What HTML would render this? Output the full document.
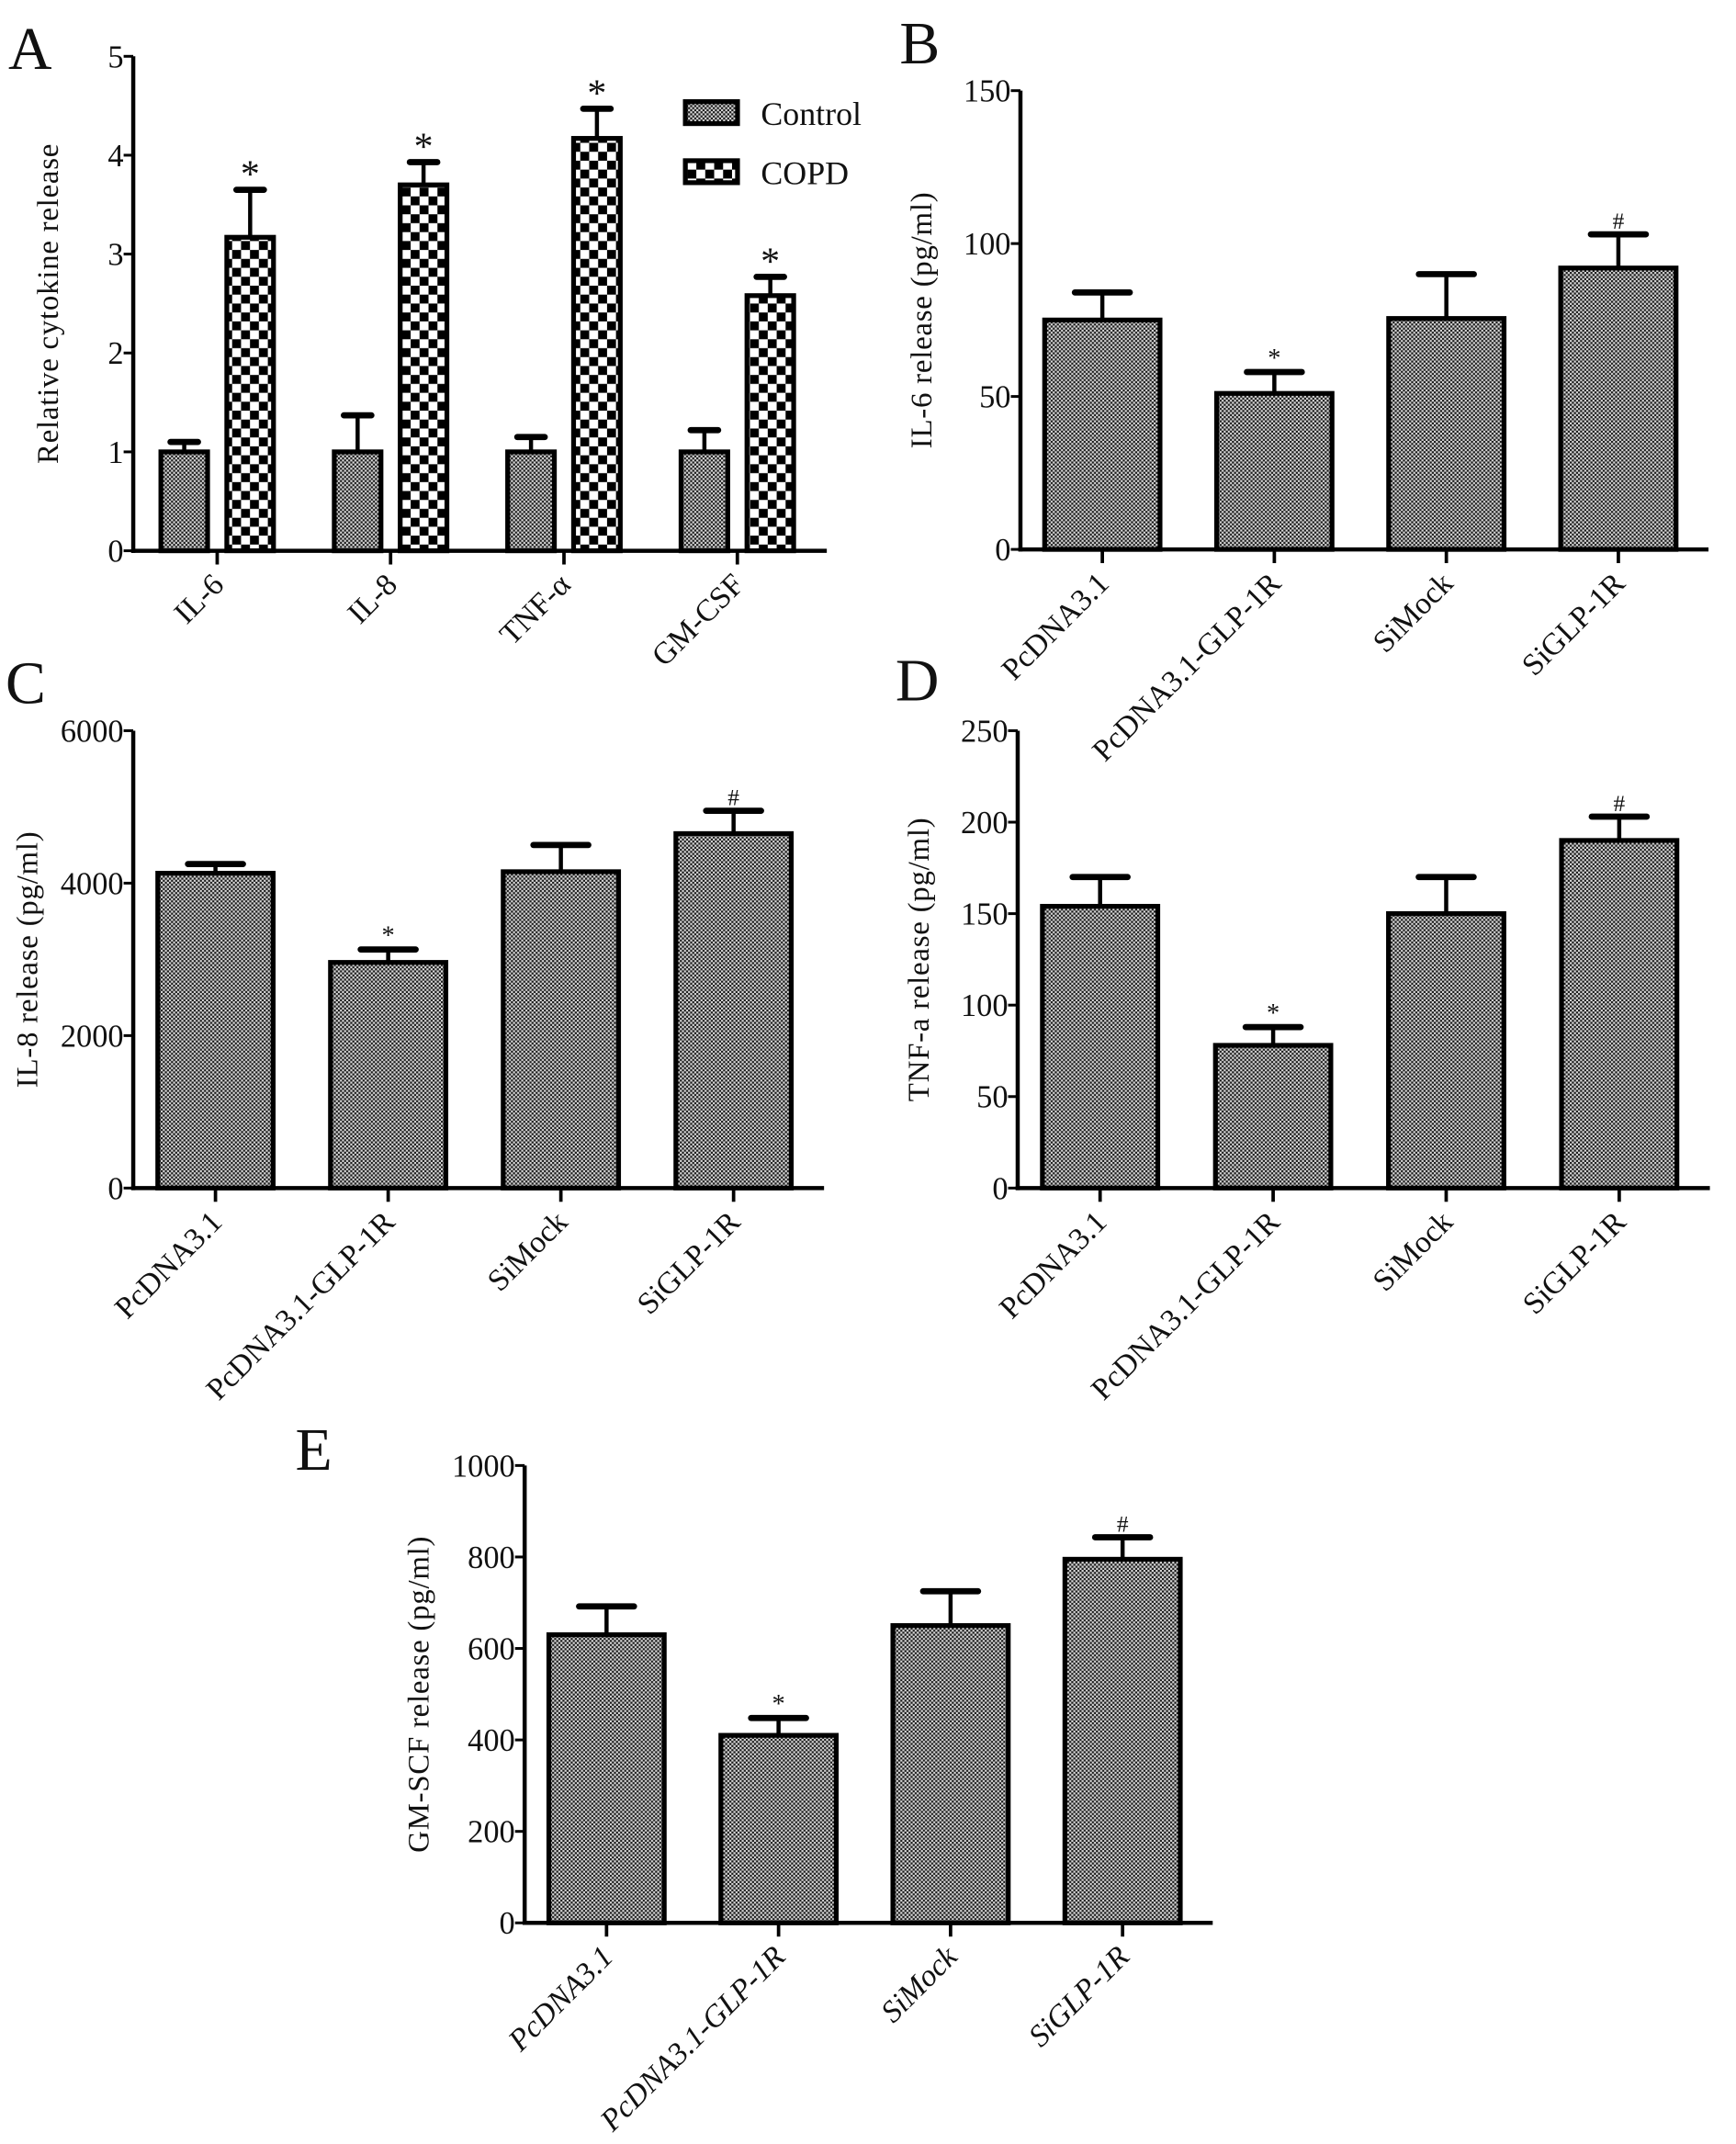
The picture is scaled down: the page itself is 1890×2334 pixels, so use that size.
<!DOCTYPE html>
<html><head><meta charset="utf-8"><style>
html,body{margin:0;padding:0;background:#fff}
svg{display:block}
text{font-family:"Liberation Serif",serif;fill:#111}
</style></head><body>
<svg id="fig" width="1890" height="2334" viewBox="0 0 1264 1561" xmlns="http://www.w3.org/2000/svg">
<defs>
<pattern id="fine" width="3" height="3" patternUnits="userSpaceOnUse">
<rect width="3" height="3" fill="#d8d8d8"/><rect width="1.5" height="1.5" fill="#1a1a1a"/><rect x="1.5" y="1.5" width="1.5" height="1.5" fill="#1a1a1a"/>
</pattern>
<pattern id="coarse" width="13" height="13" patternUnits="userSpaceOnUse">
<rect width="13" height="13" fill="#fff"/><rect width="6.5" height="6.5" fill="#000"/><rect x="6.5" y="6.5" width="6.5" height="6.5" fill="#000"/>
</pattern>
</defs>
</svg>
<script>
// Panel A data
const aCategories = ["IL-6","IL-8","TNF-α","GM-CSF"];
const aControl = [1,1,1,1];
const aControlErr = [0.1,0.37,0.15,0.22];
const aCOPD = [3.17,3.7,4.17,2.58];
const aCOPDErr = [0.48,0.23,0.3,0.19];
const aTicks = [0,1,2,3,4,5];
// Panels B-E
const groups = ["PcDNA3.1","PcDNA3.1-GLP-1R","SiMock","SiGLP-1R"];
const bValues = [75,51,75.5,92];
const bErr = [9,7,14.5,11];
const bTicks = [0,50,100,150];
const cValues = [4130,2960,4150,4650];
const cErr = [120,170,350,300];
const cTicks = [0,2000,4000,6000];
const dValues = [154,78,150,190];
const dErr = [16,10,20,13];
const dTicks = [0,50,100,150,200,250];
const eValues = [630,410,650,795];
const eErr = [62,38,75,48];
const eTicks = [0,200,400,600,800,1000];
const marks = ["","*","","#"];

const svg = document.getElementById('fig');
const NS = 'http://www.w3.org/2000/svg';
function mk(tag, attrs, parent){
  const e = document.createElementNS(NS, tag);
  for (const k in attrs) e.setAttribute(k, attrs[k]);
  (parent||svg).appendChild(e);
  return e;
}
function txt(s, attrs, parent){ const t = mk('text', attrs, parent); t.textContent = s; return t; }

function axes(g, x0, xEnd, y0, yTop, ticks, ymax, title, letter, lx, ly){
  const Y = v => y0 - (v/ymax)*(y0-yTop);
  const ax = mk('line',{x1:x0,y1:y0+1.5,x2:x0,y2:yTop,stroke:'#000','stroke-width':3},g);
   
  const xa = mk('line',{x1:x0-1.5,y1:y0,x2:xEnd,y2:y0,stroke:'#000','stroke-width':3},g);
   
  ticks.forEach(v=>{
    mk('line',{x1:x0-7,y1:Y(v),x2:x0,y2:Y(v),stroke:'#000','stroke-width':2},g);
    const t = txt(String(v),{x:x0-7,y:Y(v)+8,'text-anchor':'end','font-size':23},g);
     
  });
  const cy = (y0+yTop)/2;
  const tx = x0-50 - String(ymax).length*5;
  const tt = txt(title,{x:tx,y:cy,'text-anchor':'middle','font-size':22,transform:`rotate(-90 ${tx} ${cy})`,'letter-spacing':'0.5'},g);
   
  const L = txt(letter,{x:lx,y:ly,'font-size':44},g);
   
  return Y;
}
function bar(g, cx, w, y0, Y, v, err, fill, capw){
  const top = Y(v+err);
  mk('line',{x1:cx,y1:Y(v),x2:cx,y2:top,stroke:'#000','stroke-width':3},g);
  const cap = mk('line',{x1:cx-capw/2,y1:top,x2:cx+capw/2,y2:top,stroke:'#000','stroke-width':4.5,'stroke-linecap':'round'},g);
   
  const r = mk('rect',{x:cx-w/2,y:Y(v),width:w,height:y0-Y(v),fill:fill,stroke:'#000','stroke-width':3.5},g);
  return {r, top};
}
function xlabel(g, cx, y0, s, italic){
  const t = txt(s,{x:cx+6,y:y0+26,'text-anchor':'end','font-size':22.5,transform:`rotate(-45 ${cx+6} ${y0+26})`},g);
  if (italic) t.setAttribute('font-style','italic');
   
}

// Panel A
(function(){
  const g = mk('g',{});  
  const x0=97, xEnd=602, y0=401, yTop=41;
  const Y = axes(g,x0,xEnd,y0,yTop,aTicks,5,'Relative cytokine release','A',6,50);
  const step = (xEnd-x0)/aCategories.length;
  aCategories.forEach((c,i)=>{
    const cx = x0 + step*(i+0.5) - 2;
    mk('line',{x1:cx,y1:y0,x2:cx,y2:y0+10,stroke:'#000','stroke-width':2.5},g);
    const b1 = bar(g,cx-24,34,y0,Y,aControl[i],aControlErr[i],'url(#fine)',20);
     
    const b2 = bar(g,cx+24,34,y0,Y,aCOPD[i],aCOPDErr[i],'url(#coarse)',20);
     
    const s = txt('*',{x:cx+24,y:b2.top-2,'text-anchor':'middle','font-size':28},g);
     
    xlabel(g,cx,y0,c,false);
  });
  const lg = mk('g',{},g);  
  mk('rect',{x:499,y:74,width:38,height:16,fill:'url(#fine)',stroke:'#000','stroke-width':3.5},lg);
  mk('rect',{x:499,y:117,width:38,height:16,fill:'url(#coarse)',stroke:'#000','stroke-width':3.5},lg);
  const l1=txt('Control',{x:554,y:91,'font-size':24},lg);  
  const l2=txt('COPD',{x:554,y:134,'font-size':24},lg);  
})();

function groupPanel(name, letter, lx, ly, x0, xEnd, y0, yTop, ticks, vals, errs, title, italic){
  const g = mk('g',{});  
  const ymax = ticks[ticks.length-1];
  const Y = axes(g,x0,xEnd,y0,yTop,ticks,ymax,title,letter,lx,ly);
  const step = (xEnd-x0)/groups.length;
  groups.forEach((c,i)=>{
    const cx = x0 + step*(i+0.5) - 3;
    mk('line',{x1:cx,y1:y0,x2:cx,y2:y0+10,stroke:'#000','stroke-width':2.5},g);
    const b = bar(g,cx,84,y0,Y,vals[i],errs[i],'url(#fine)',40);
    
    
    if (marks[i]){
      const s = txt(marks[i],{x:cx,y:b.top-4,'text-anchor':'middle','font-size':marks[i]==='#'?17:19},g);
       
    }
    xlabel(g,cx,y0,c,italic);
  });
}
groupPanel('panel-b','B',655,46,743,1244,400,66,bTicks,bValues,bErr,'IL-6 release (pg/ml)',false);
groupPanel('panel-c','C',4,512,97,600,865,532,cTicks,cValues,cErr,'IL-8 release (pg/ml)',false);
groupPanel('panel-d','D',652,510,741,1245,865,532,dTicks,dValues,dErr,'TNF-a release (pg/ml)',false);
groupPanel('panel-e','E',215,1070,382,883,1400,1067,eTicks,eValues,eErr,'GM-SCF release (pg/ml)',true);
</script>
</body></html>
